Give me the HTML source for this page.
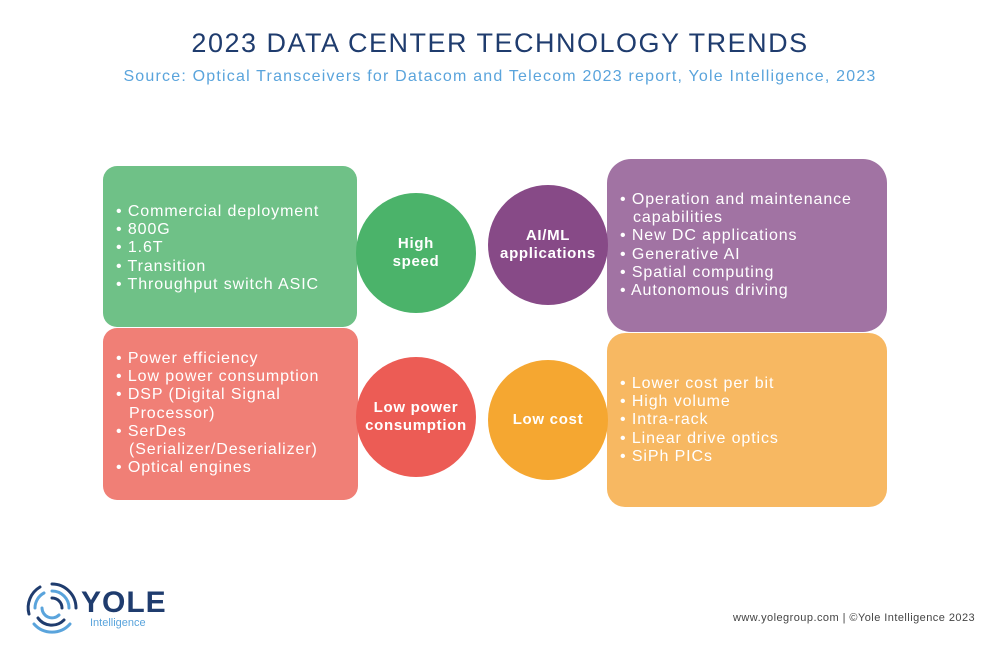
<!DOCTYPE html>
<html><head><style>
body{margin:0;width:1000px;height:646px;background:#fff;position:relative;font-family:"Liberation Sans",sans-serif;overflow:hidden}
.t{position:absolute;left:0;width:1000px;text-align:center}
.box{position:absolute;color:#fff;font-size:16px;letter-spacing:0.9px;line-height:18.2px;box-sizing:border-box}
.box div{padding-left:13px;text-indent:-13px}
.c{position:absolute;width:120px;height:120px;border-radius:50%;color:#fff;font-weight:bold;font-size:15px;letter-spacing:0.7px;line-height:18px;display:flex;align-items:center;justify-content:center;text-align:center}
</style></head><body>
<div class="t" style="top:28px;font-size:27px;color:#1f3c6e;letter-spacing:1.5px">2023 DATA CENTER TECHNOLOGY TRENDS</div>
<div class="t" style="top:68px;font-size:16px;color:#5aa4dc;letter-spacing:1.2px">Source: Optical Transceivers for Datacom and Telecom 2023 report, Yole Intelligence, 2023</div>

<div class="box" style="left:103px;top:166px;width:254px;height:161px;background:#6fc187;border-radius:14px;padding:37px 0 0 13px">
<div>• Commercial deployment</div><div>• 800G</div><div>• 1.6T</div><div>• Transition</div><div>• Throughput switch ASIC</div></div>
<div class="box" style="left:103px;top:328px;width:255px;height:172px;background:#f07f76;border-radius:14px;padding:22px 8px 0 13px">
<div>• Power efficiency</div><div>• Low power consumption</div><div>• DSP (Digital Signal Processor)</div><div>• SerDes (Serializer/Deserializer)</div><div>• Optical engines</div></div>
<div class="box" style="left:607px;top:159px;width:280px;height:173px;background:#a173a3;border-radius:24px;padding:32px 10px 0 13px">
<div>• Operation and maintenance capabilities</div><div>• New DC applications</div><div>• Generative AI</div><div>• Spatial computing</div><div>• Autonomous driving</div></div>
<div class="box" style="left:607px;top:333px;width:280px;height:174px;background:#f7b862;border-radius:18px;padding:42px 0 0 13px">
<div>• Lower cost per bit</div><div>• High volume</div><div>• Intra-rack</div><div>• Linear drive optics</div><div>• SiPh PICs</div></div>

<div class="c" style="left:356px;top:193px;background:#4bb36a">High<br>speed</div>
<div class="c" style="left:488px;top:185px;background:#874a87">AI/ML<br>applications</div>
<div class="c" style="left:356px;top:357px;background:#ec5c55">Low power<br>consumption</div>
<div class="c" style="left:488px;top:360px;background:#f5a731">Low cost</div>

<svg style="position:absolute;left:24px;top:580px" width="56" height="56" viewBox="0 0 56 56" fill="none" stroke-linecap="round">
<path d="M28 4 A24 24 0 0 1 52 28" stroke="#1f3c6e" stroke-width="3"/>
<path d="M46 44 A24 24 0 0 1 10 44" stroke="#5aa4dc" stroke-width="3"/>
<path d="M5 34 A24 24 0 0 1 16 7" stroke="#1f3c6e" stroke-width="3"/>
<path d="M28 11 A17 17 0 0 1 45 28" stroke="#5aa4dc" stroke-width="3"/>
<path d="M40 40 A17 17 0 0 1 14 38" stroke="#1f3c6e" stroke-width="3"/>
<path d="M11 28 A17 17 0 0 1 20 13" stroke="#5aa4dc" stroke-width="3"/>
<path d="M28 18 A10 10 0 0 1 38 28" stroke="#1f3c6e" stroke-width="3"/>
<path d="M35 35 A10 10 0 0 1 18 28" stroke="#5aa4dc" stroke-width="3"/>
</svg>
<div style="position:absolute;left:81px;top:586px;font-size:30px;font-weight:bold;color:#1f3c6e;letter-spacing:1px">YOLE</div>
<div style="position:absolute;left:90px;top:617px;font-size:11px;color:#5aa4dc">Intelligence</div>
<div style="position:absolute;left:733px;top:612px;font-size:11px;letter-spacing:0.45px;color:#444">www.yolegroup.com | ©Yole Intelligence 2023</div>
</body></html>
